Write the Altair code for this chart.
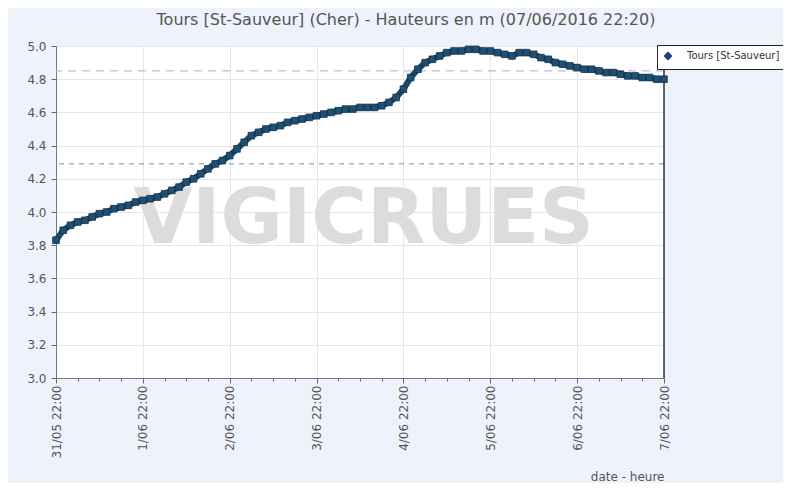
import json
import altair as alt
import pandas as pd

# Hours since 31/05/2016 22:00, every 2 hours
hours = list(range(0, 169, 2))
levels = [
    3.83, 3.89, 3.92, 3.94, 3.95, 3.97, 3.99, 4.00, 4.02, 4.03, 4.04, 4.06,
    4.07, 4.08, 4.09, 4.11, 4.13, 4.15, 4.18, 4.20, 4.23, 4.26, 4.29, 4.31,
    4.34, 4.38, 4.42, 4.46, 4.48, 4.50, 4.51, 4.52, 4.54, 4.55, 4.56, 4.57,
    4.58, 4.59, 4.60, 4.61, 4.62, 4.62, 4.63, 4.63, 4.63, 4.64, 4.66, 4.69,
    4.74, 4.81, 4.86, 4.90, 4.92, 4.94, 4.96, 4.97, 4.97, 4.98, 4.98, 4.97,
    4.97, 4.96, 4.95, 4.94, 4.96, 4.96, 4.95, 4.93, 4.92, 4.90, 4.89, 4.88,
    4.87, 4.86, 4.86, 4.85, 4.84, 4.84, 4.83, 4.82, 4.82, 4.81, 4.81, 4.80,
    4.80,
]
series_name = "Tours [St-Sauveur]"
day_labels = ["31/05 22:00", "1/06 22:00", "2/06 22:00", "3/06 22:00",
              "4/06 22:00", "5/06 22:00", "6/06 22:00", "7/06 22:00"]
x_ticks = list(range(0, 169, 6))
y_ticks = [3.0, 3.2, 3.4, 3.6, 3.8, 4.0, 4.2, 4.4, 4.6, 4.8, 5.0]
threshold_high = 4.85
threshold_low = 4.29
end_hour = 168
title_text = "Tours [St-Sauveur] (Cher) - Hauteurs en m (07/06/2016 22:20)"
watermark = "VIGICRUES"

df = pd.DataFrame({"h": hours, "v": levels, "serie": series_name})

FONT = "DejaVu Sans"
GRAY = "#555555"

x_scale = alt.Scale(domain=[0, 168], nice=False, zero=False)
y_scale = alt.Scale(domain=[3.0, 5.0], nice=False, zero=False)

x_axis = alt.Axis(
    values=x_ticks,
    labelExpr="datum.value % 24 == 0 ? " + json.dumps(day_labels) + "[datum.value / 24] : ''",
    labelAngle=270, labelOverlap=False,
    labelFont=FONT, labelFontSize=12, labelColor=GRAY,
    tickSize={"condition": {"test": "datum.value % 24 == 0", "value": 5}, "value": 3},
    tickColor="#666666",
    gridOpacity={"condition": {"test": "datum.value % 24 == 0", "value": 1}, "value": 0},
    gridColor="#e6e6e6",
    domainColor="#777777",
    title="date - heure", titleFont=FONT, titleFontSize=12, titleFontWeight="normal",
    titleColor=GRAY, titleAnchor="end", titlePadding=14,
)
y_axis = alt.Axis(
    values=y_ticks,
    format=".1f",
    labelOverlap=False,
    labelFont=FONT, labelFontSize=12, labelColor=GRAY, labelPadding=5,
    tickSize=5,
    tickColor="#666666",
    gridColor="#e6e6e6",
    domainColor="#777777",
    title=None,
)

X = alt.X("h:Q", scale=x_scale, axis=x_axis)
Y = alt.Y("v:Q", scale=y_scale, axis=y_axis)

base = alt.Chart(df)

wm = alt.Chart(pd.DataFrame({"t": [watermark], "h": [85], "v": [3.95]})).mark_text(
    font="DejaVu Sans", fontSize=76, fontWeight="bold", color="#dcdcdc", align="center", baseline="middle"
).encode(x=X, y=Y, text="t:N")

rule_hi = alt.Chart(pd.DataFrame({"v": [threshold_high]})).mark_rule(
    color="#b8b8ec", strokeDash=[8, 6], strokeWidth=1.2
).encode(y=Y)
rule_lo = alt.Chart(pd.DataFrame({"v": [threshold_low]})).mark_rule(
    color="#7a8ca8", strokeDash=[5, 5], strokeWidth=1
).encode(y=Y)
rule_end = alt.Chart(pd.DataFrame({"h": [end_hour]})).mark_rule(
    color="#333333", strokeWidth=1.5
).encode(x=X)

line = base.mark_line(color="#1d4a68", strokeWidth=6).encode(x=X, y=Y)
pts = base.mark_point(shape="square", filled=True, size=44, opacity=1, stroke="#12344d", strokeWidth=0.8).encode(
    x=X,
    y=Y,
    color=alt.Color("serie:N", scale=alt.Scale(range=["#1f5074"]),
                    legend=alt.Legend(title=None, orient="none", legendX=601, legendY=-1,
                                      symbolType="diamond", symbolSize=45, symbolFillColor="#2b2b80",
                                      symbolStrokeColor="#2b2b80",
                                      labelFont=FONT, labelFontSize=10, labelColor="#333333",
                                      labelLimit=300, strokeColor="#222222", fillColor="#ffffff",
                                      padding=6, rowPadding=0, labelOffset=14, cornerRadius=0)),
)

chart = alt.layer(wm, rule_hi, rule_lo, rule_end, line, pts).properties(
    width=608, height=332,
    title=alt.TitleParams(title_text, font=FONT, fontSize=16, fontWeight="normal",
                          color=GRAY, anchor="middle", dx=46, offset=9),
    background="#eef3fb",
    autosize=alt.AutoSizeParams(type="none"),
    padding={"left": 48, "top": 38, "right": 119, "bottom": 105},
).configure_view(stroke="#dddddd", fill="#ffffff")

chart.save("out.html", embed_options={"renderer": "svg", "actions": False})
